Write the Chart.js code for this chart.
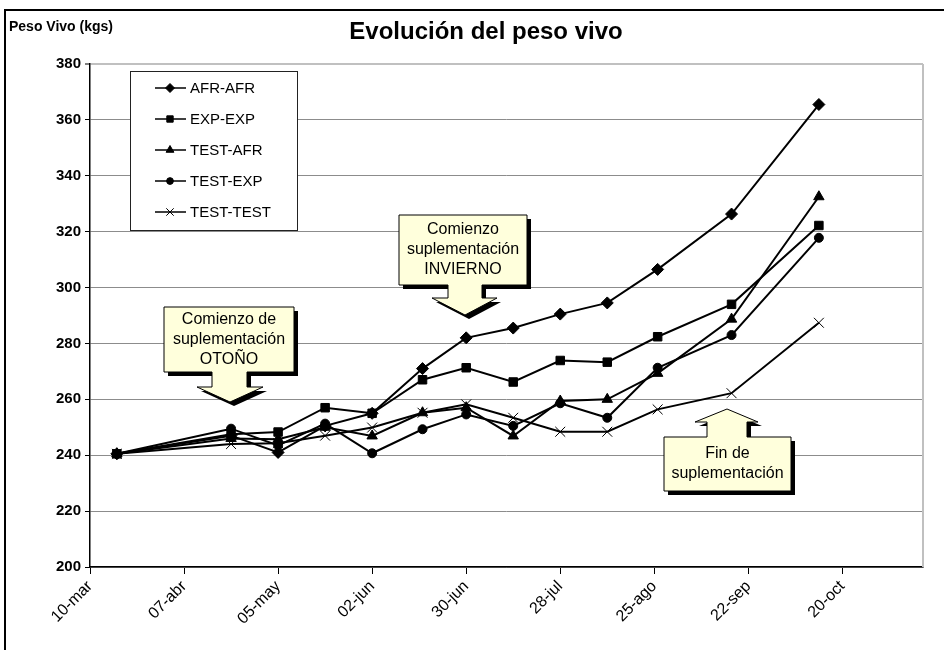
<!DOCTYPE html>
<html lang="es">
<head>
<meta charset="UTF-8">
<title>Evolución del peso vivo</title>
<script src="https://cdn.jsdelivr.net/npm/chart.js"></script>
<style>
  body { margin: 0; background: #fff; }
  .wrap { position: relative; width: 944px; height: 650px; }
</style>
</head>
<body>
<div class="wrap"><canvas id="chart"></canvas></div>
<script>
// weighing dates, counted in days from 10-mar
const weighDays = [8, 42, 56, 70, 84, 99, 112, 126, 140, 154, 169, 191, 217];

const afrAfr   = [240.5, 247, 241, 250.5, 255, 271, 282, 285.5, 290.5, 294.5, 306.5, 326.3, 365.5];
const expExp   = [240.5, 247.5, 248.3, 257, 255, 267, 271.3, 266.2, 273.9, 273.3, 282.4, 294, 322.2];
const testAfr  = [240.5, 246, 245.7, 250, 246.9, 255.2, 257, 246.9, 259.4, 260, 269.3, 288.7, 332.5];
const testExp  = [240.5, 249.5, 243.5, 251.3, 240.7, 249.3, 254.6, 250.5, 258.6, 253.4, 271.3, 283, 317.8];
const testTest = [240.5, 244, 244.3, 247, 249.9, 255.2, 258.2, 253.4, 248.4, 248.4, 256.4, 262.2, 287.4];

const seriesNames = ['AFR-AFR', 'EXP-EXP', 'TEST-AFR', 'TEST-EXP', 'TEST-TEST'];

const tickDays = [0, 28, 56, 84, 112, 140, 168, 196, 224];
const tickLabels = ['10-mar', '07-abr', '05-may', '02-jun', '30-jun', '28-jul', '25-ago', '22-sep', '20-oct'];

const FONT = '"Liberation Sans", Arial, sans-serif';

function toPoints(vals) {
    return weighDays.map((d, i) => ({ x: d, y: vals[i] }));
}

const markers = [
    { pointStyle: 'rectRot', pointRadius: 6 },
    { pointStyle: 'rect', pointRadius: 6 },
    { pointStyle: 'triangle', pointRadius: 6 },
    { pointStyle: 'circle', pointRadius: 4.5 },
    { pointStyle: 'crossRot', pointRadius: 7 }
];

const datasets = [afrAfr, expExp, testAfr, testExp, testTest].map((vals, i) => ({
    label: seriesNames[i],
    data: toPoints(vals),
    borderColor: '#000',
    backgroundColor: '#000',
    borderWidth: 2,
    pointBorderWidth: 1,
    pointStyle: markers[i].pointStyle,
    pointRadius: markers[i].pointRadius,
    tension: 0
}));

// yellow arrow callouts (pixel layout of the annotation shapes)
const callouts = [
    { dir: 'down', box: [164, 307, 294, 372], stem: [212, 247], neck: 387, head: [197, 263], tip: [230, 402],
      lines: ['Comienzo de', 'suplementación', 'OTOÑO'] },
    { dir: 'down', box: [399, 215, 527, 285], stem: [448, 482], neck: 298, head: [432, 497], tip: [465, 315],
      lines: ['Comienzo', 'suplementación', 'INVIERNO'] },
    { dir: 'up', box: [664, 437, 791, 491], stem: [707, 747], neck: 422, head: [695, 758], tip: [727, 409],
      lines: ['Fin de', 'suplementación'] }
];

function calloutPath(ctx, c, dx, dy) {
    const [x1, y1, x2, y2] = c.box;
    const [s1, s2] = c.stem;
    const [h1, h2] = c.head;
    ctx.beginPath();
    if (c.dir === 'down') {
        ctx.moveTo(x1 + dx, y1 + dy);
        ctx.lineTo(x2 + dx, y1 + dy);
        ctx.lineTo(x2 + dx, y2 + dy);
        ctx.lineTo(s2 + dx, y2 + dy);
        ctx.lineTo(s2 + dx, c.neck + dy);
        ctx.lineTo(h2 + dx, c.neck + dy);
        ctx.lineTo(c.tip[0] + dx, c.tip[1] + dy);
        ctx.lineTo(h1 + dx, c.neck + dy);
        ctx.lineTo(s1 + dx, c.neck + dy);
        ctx.lineTo(s1 + dx, y2 + dy);
        ctx.lineTo(x1 + dx, y2 + dy);
    } else {
        ctx.moveTo(x1 + dx, y2 + dy);
        ctx.lineTo(x1 + dx, y1 + dy);
        ctx.lineTo(s1 + dx, y1 + dy);
        ctx.lineTo(s1 + dx, c.neck + dy);
        ctx.lineTo(h1 + dx, c.neck + dy);
        ctx.lineTo(c.tip[0] + dx, c.tip[1] + dy);
        ctx.lineTo(h2 + dx, c.neck + dy);
        ctx.lineTo(s2 + dx, c.neck + dy);
        ctx.lineTo(s2 + dx, y1 + dy);
        ctx.lineTo(x2 + dx, y1 + dy);
        ctx.lineTo(x2 + dx, y2 + dy);
    }
    ctx.closePath();
}

const decorations = {
    id: 'decorations',
    beforeDraw(chart) {
        const ctx = chart.ctx;
        ctx.save();
        ctx.fillStyle = '#fff';
        ctx.fillRect(0, 0, chart.width, chart.height);
        ctx.restore();
    },
    beforeDatasetsDraw(chart) {
        const ctx = chart.ctx;
        const a = chart.chartArea;
        ctx.save();
        ctx.strokeStyle = '#c0c0c0';
        ctx.lineWidth = 2;
        ctx.beginPath();
        ctx.moveTo(a.right, a.top);
        ctx.lineTo(a.right, a.bottom);
        ctx.stroke();
        ctx.restore();
    },
    afterDraw(chart) {
        const ctx = chart.ctx;
        ctx.save();

        // outer frame
        ctx.strokeStyle = '#000';
        ctx.lineWidth = 2;
        ctx.strokeRect(5, 10, 1000, 700);

        // titles
        ctx.fillStyle = '#000';
        ctx.textBaseline = 'middle';
        ctx.textAlign = 'center';
        ctx.font = 'bold 24px ' + FONT;
        ctx.fillText('Evolución del peso vivo', 486, 32);
        ctx.textAlign = 'left';
        ctx.font = 'bold 14px ' + FONT;
        ctx.fillText('Peso Vivo (kgs)', 9, 27);

        // legend box
        ctx.fillStyle = '#fff';
        ctx.fillRect(130, 71, 167, 159);
        ctx.strokeStyle = '#222';
        ctx.lineWidth = 1;
        ctx.strokeRect(130.5, 71.5, 167, 159);
        ctx.font = '15px ' + FONT;
        chart.data.datasets.forEach((ds, i) => {
            const y = 88 + i * 31;
            ctx.strokeStyle = '#000';
            ctx.lineWidth = 1.5;
            ctx.beginPath();
            ctx.moveTo(155, y);
            ctx.lineTo(186, y);
            ctx.stroke();
            ctx.fillStyle = '#000';
            ctx.lineWidth = 1;
            Chart.helpers.drawPoint(ctx, {
                pointStyle: ds.pointStyle,
                radius: ds.pointRadius * 0.75,
                borderWidth: 1,
                rotation: 0
            }, 170, y);
            ctx.fillText(ds.label, 190, y + 1);
        });

        // callouts
        callouts.forEach(c => {
            ctx.fillStyle = '#000';
            calloutPath(ctx, c, 4, 4);
            ctx.fill();
            ctx.fillStyle = '#ffffdc';
            ctx.strokeStyle = '#000';
            ctx.lineWidth = 1;
            calloutPath(ctx, c, 0, 0);
            ctx.fill();
            ctx.stroke();
            ctx.fillStyle = '#000';
            ctx.textAlign = 'center';
            ctx.font = '16px ' + FONT;
            const cx = (c.box[0] + c.box[2]) / 2;
            const lh = 20;
            const cy = (c.box[1] + c.box[3]) / 2 - (c.lines.length - 1) * lh / 2;
            c.lines.forEach((t, k) => ctx.fillText(t, cx, cy + k * lh));
        });
        ctx.restore();
    }
};

new Chart(document.getElementById('chart'), {
    type: 'line',
    data: { datasets },
    options: {
        responsive: true,
        maintainAspectRatio: false,
        animation: false,
        layout: { padding: { top: 64, right: 21, left: 0, bottom: 0 } },
        plugins: {
            legend: { display: false },
            title: { display: false },
            tooltip: { enabled: false }
        },
        scales: {
            x: {
                type: 'linear',
                min: 0,
                max: 248,
                afterBuildTicks: scale => {
                    scale.ticks = tickDays.map(v => ({ value: v }));
                },
                afterFit: scale => { scale.height = 83; },
                ticks: {
                    callback: (v, i) => tickLabels[i],
                    minRotation: 45,
                    maxRotation: 45,
                    color: '#000',
                    font: { family: FONT, size: 16 },
                    padding: 3
                },
                grid: { drawOnChartArea: false, tickLength: 7, tickColor: '#000', tickWidth: 1 },
                border: { color: '#000', width: 1.5 }
            },
            y: {
                min: 200,
                max: 380,
                afterFit: scale => { scale.width = 90; },
                ticks: {
                    stepSize: 20,
                    color: '#000',
                    font: { family: FONT, size: 15, weight: 'bold' },
                    padding: 4
                },
                grid: {
                    color: c => (c.tick && c.tick.value === 380 ? '#c0c0c0' : '#8c8c8c'),
                    lineWidth: c => (c.tick && c.tick.value === 380 ? 2 : 1),
                    tickColor: '#000',
                    tickWidth: 1,
                    tickLength: 5
                },
                border: { color: '#000', width: 1.5 }
            }
        }
    },
    plugins: [decorations]
});
</script>
</body>
</html>
